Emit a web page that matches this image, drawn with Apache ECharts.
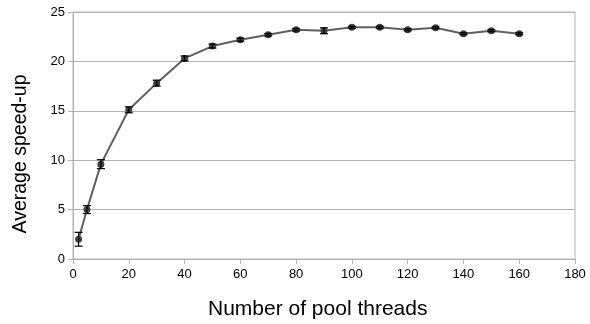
<!DOCTYPE html>
<html><head><meta charset="utf-8">
<script src="https://cdn.jsdelivr.net/npm/echarts@6/dist/echarts.min.js"></script>
<style>html,body{margin:0;padding:0;background:#fff}#c{width:590px;height:324px}</style>
</head><body><div id="c"></div>
<script>
const threads = [2, 5, 10, 20, 30, 40, 50, 60, 70, 80, 90, 100, 110, 120, 130, 140, 150, 160];
const speedup = [2.0, 5.0, 9.6, 15.1, 17.8, 20.3, 21.55, 22.2, 22.7, 23.2, 23.1, 23.45, 23.45, 23.2, 23.4, 22.8, 23.1, 22.8];
const errors  = [0.7, 0.4, 0.45, 0.3, 0.3, 0.25, 0.2, 0.15, 0.12, 0.12, 0.3, 0.1, 0.1, 0.1, 0.1, 0.1, 0.1, 0.1];
const xTicks = [0, 20, 40, 60, 80, 100, 120, 140, 160, 180];
const yTicks = [0, 5, 10, 15, 20, 25];
const xTitle = 'Number of pool threads';
const yTitle = 'Average speed-up';

const pts = threads.map((t, i) => [t, speedup[i]]);
const errData = threads.map((t, i) => [t, speedup[i] - errors[i], speedup[i] + errors[i]]);

const chart = echarts.init(document.getElementById('c'), null, {renderer: 'canvas'});
const font = 'Liberation Sans';
chart.setOption({
  animation: false,
  grid: {left: 73, right: 15, top: 12, bottom: 65, show: true, borderColor: '#b3b3b3', borderWidth: 1},
  graphic: [
    {type: 'text', left: 208, top: 299,
     style: {text: xTitle, font: '21px "Liberation Sans"', fill: '#000'}},
    {type: 'text', x: 11, y: 154, rotation: Math.PI / 2,
     style: {text: yTitle, font: '19.5px "Liberation Sans"', fill: '#000', align: 'center', verticalAlign: 'top'}}
  ],
  xAxis: {
    type: 'value', min: xTicks[0], max: xTicks[xTicks.length - 1], interval: 20,
    axisLine: {show: true, lineStyle: {color: '#b3b3b3'}},
    axisTick: {show: true, length: 5, lineStyle: {color: '#b3b3b3'}},
    axisLabel: {fontFamily: font, fontSize: 13, color: '#000', margin: 9},
    splitLine: {show: false}
  },
  yAxis: {
    type: 'value', min: yTicks[0], max: yTicks[yTicks.length - 1], interval: 5,
    axisLine: {show: true, lineStyle: {color: '#b3b3b3'}},
    axisTick: {show: true, length: 5, lineStyle: {color: '#b3b3b3'}},
    axisLabel: {fontFamily: font, fontSize: 13, color: '#000', margin: 8},
    splitLine: {show: true, lineStyle: {color: '#b3b3b3', width: 1}}
  },
  series: [
    {
      type: 'line', data: pts, symbol: 'circle', symbolSize: 7,
      lineStyle: {color: '#606060', width: 2},
      itemStyle: {color: '#404040'}, z: 2
    },
    {
      type: 'custom', data: errData, z: 3,
      renderItem: function (params, api) {
        const x = api.value(0);
        const lo = api.coord([x, api.value(1)]);
        const hi = api.coord([x, api.value(2)]);
        const w = 4;
        const st = {stroke: '#000', lineWidth: 1.2};
        return {type: 'group', children: [
          {type: 'line', shape: {x1: lo[0], y1: lo[1], x2: hi[0], y2: hi[1]}, style: st},
          {type: 'line', shape: {x1: lo[0] - w, y1: lo[1], x2: lo[0] + w, y2: lo[1]}, style: st},
          {type: 'line', shape: {x1: hi[0] - w, y1: hi[1], x2: hi[0] + w, y2: hi[1]}, style: st}
        ]};
      }
    }
  ]
});
</script></body></html>
